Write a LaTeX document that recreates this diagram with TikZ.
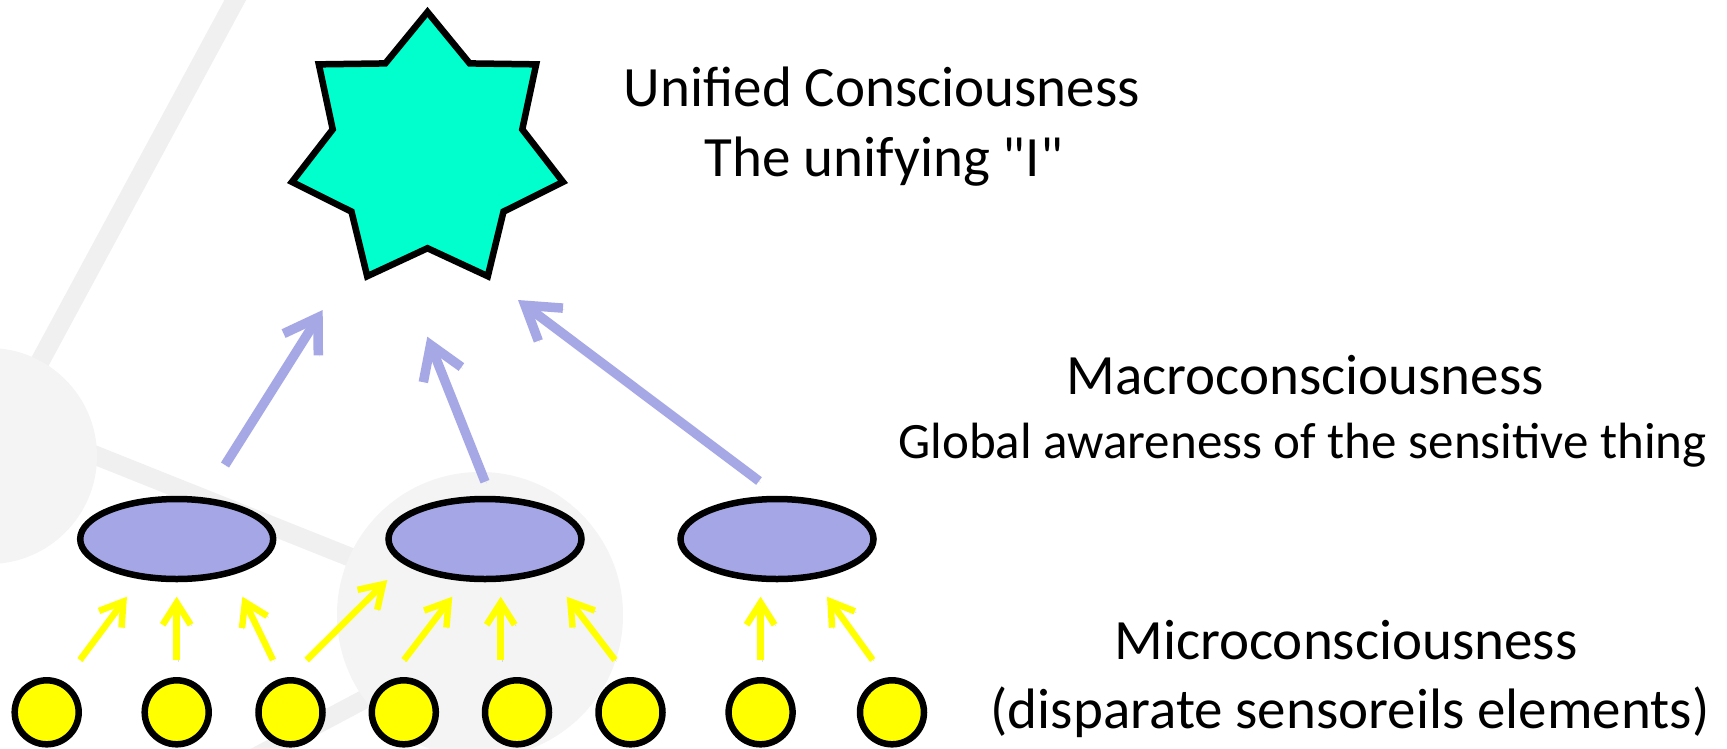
\documentclass[tikz,border=0pt]{standalone}
\usepackage{fontspec}
\setmainfont{Carlito}[Ligatures=TeXOff]
\usetikzlibrary{shapes.geometric,arrows.meta}
\definecolor{bgcirc}{RGB}{244,244,244}
\definecolor{bgline}{RGB}{240,240,240}
\definecolor{mint}{RGB}{0,255,204}
\definecolor{lav}{RGB}{165,166,230}
\definecolor{lavarrow}{RGB}{166,168,230}
\definecolor{yel}{RGB}{255,255,0}
\begin{document}
\begin{tikzpicture}[x=1pt,y=-1pt,
  bgl/.style={draw=bgline,line width=19pt},
  bgc/.style={fill=bgcirc},
  macro/.style={ellipse, draw=black, fill=lav, line width=6.5pt, minimum width=193pt, minimum height=80pt, inner sep=0pt},
  micro/.style={circle, draw=black, fill=yel, line width=6.5pt, minimum size=64pt, inner sep=0pt},
  unistar/.style={star, star points=7, star point ratio=1.43, draw=black, fill=mint, line width=6.5pt, minimum size=278pt, inner sep=0pt},
  shadowed/.style={preaction={draw=black, opacity=.12, transform canvas={shift={(1.5pt,-1.5pt)}}}},
  yarr/.style={draw=yel, line width=6.5pt, -{Straight Barb[length=22pt,width=28pt]}, shadowed},
  barr/.style={draw=lavarrow, line width=9.5pt, -{Straight Barb[length=32pt,width=41pt]}, shadowed},
  lbl/.style={anchor=base, inner sep=0pt, font=\fontsize{57}{68}\selectfont},
  sublbl/.style={anchor=base, inner sep=0pt, font=\fontsize{51}{61}\selectfont}
]
\useasboundingbox (0,0) rectangle (1727,748);
\clip (0,0) rectangle (1727,748);
\fill[white] (0,0) rectangle (1727,748);

% faint background network
\draw[bgl] (245,-18) -- (-11,456);
\draw[bgl] (0,417.2) -- (480,609);
\draw[bgl] (250,760) -- (440,659);
\fill[bgc] (-11,456) circle (108);
\fill[bgc] (480,615) circle (143);

% star
\node[unistar] (star) at (427.5,151) {};

% macro ellipses
\node[macro] (m1) at (176.7,539) {};
\node[macro] (m2) at (485,539) {};
\node[macro] (m3) at (777,539) {};

% micro circles
\foreach \n/\x in {1/46.7,2/176.7,3/290.5,4/403.8,5/517,6/630.5,7/760.6,8/892}
  \node[micro] (c\n) at (\x,712.3) {};

% yellow arrow ends
\coordinate (ya1) at (80,660);    \coordinate (yb1) at (127,596.7);
\coordinate (ya2) at (176.7,660); \coordinate (yb2) at (176.7,596.7);
\coordinate (ya3) at (273,660);   \coordinate (yb3) at (242.4,596.7);
\coordinate (ya4) at (306.7,660); \coordinate (yb4) at (387.3,580);
\coordinate (ya5) at (404,660);   \coordinate (yb5) at (452.3,596.7);
\coordinate (ya6) at (500.7,660); \coordinate (yb6) at (500.7,596.7);
\coordinate (ya7) at (615,660);   \coordinate (yb7) at (566.7,596.7);
\coordinate (ya8) at (760.6,660); \coordinate (yb8) at (760.6,596.7);
\coordinate (ya9) at (872.7,660); \coordinate (yb9) at (827,596.7);
\foreach \i in {1,...,9}
  \draw[yarr] (ya\i) -- (yb\i);

% blue arrow ends
\coordinate (ba1) at (225,465);   \coordinate (bb1) at (322.7,310);
\coordinate (ba2) at (485,481.7); \coordinate (bb2) at (427.3,336.7);
\coordinate (ba3) at (759,481);   \coordinate (bb3) at (518,300);
\foreach \i in {1,2,3}
  \draw[barr] (ba\i) -- (bb\i);

% labels
\node[lbl] (t1) at (882,106.7) {Unified Consciousness};
\node[lbl] (t2) at (884,176.7) {The unifying "I"};
\node[lbl] (t3) at (1305,394.3) {Macroconsciousness};
\node[sublbl] (t4) at (1302.5,458.3) {Global awareness of the sensitive thing};
\node[lbl] (t5) at (1346,659.3) {Microconsciousness};
\node[lbl] (t6) at (1350,728.3) {(disparate sensoreils elements)};
\end{tikzpicture}
\end{document}
